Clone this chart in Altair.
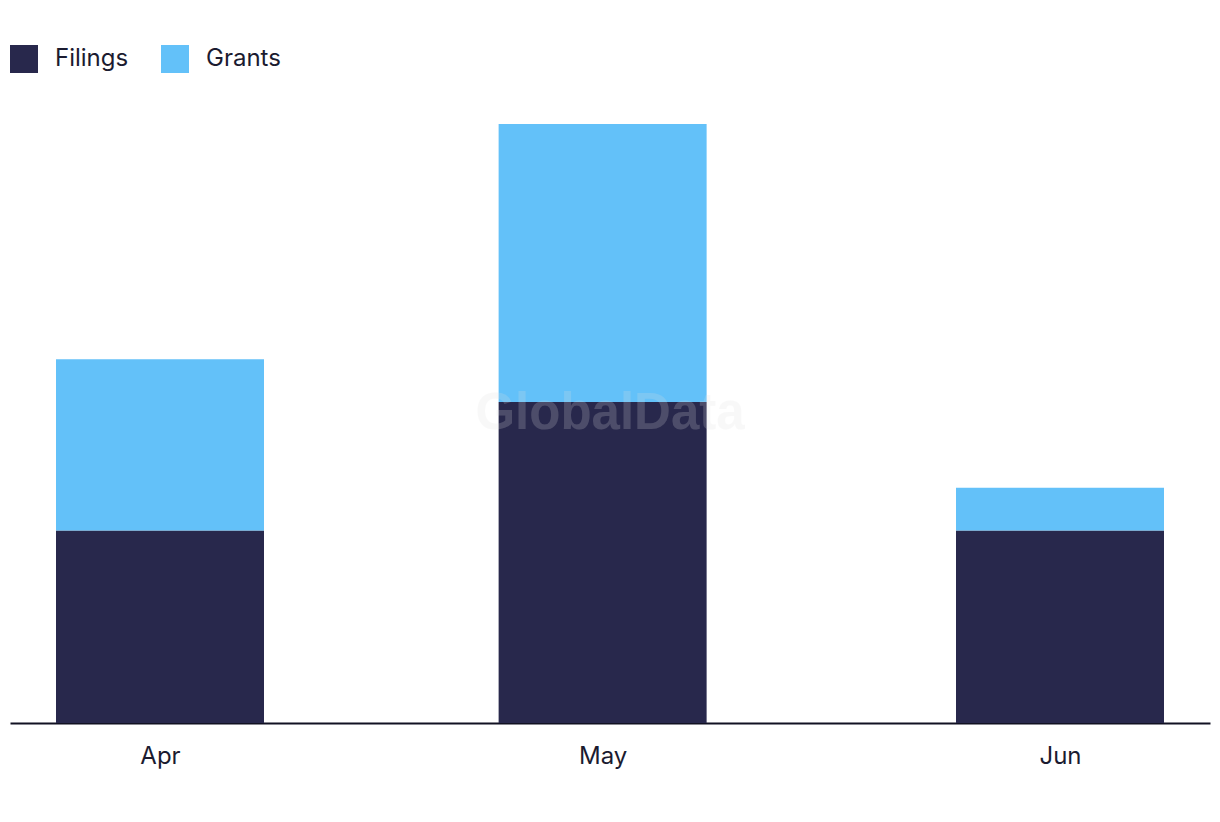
import altair as alt
import pandas as pd

months = ["2023-04-01", "2023-05-01", "2023-06-01"]
filings = [9, 15, 9]
grants = [8, 13, 2]
series = ["Filings", "Grants"]
colors = ["#28284c", "#63c1f9"]

rows = []
for m, f, g in zip(months, filings, grants):
    rows.append({"date": m + "T00:00:00Z", "type": "Filings", "value": f})
    rows.append({"date": m + "T00:00:00Z", "type": "Grants", "value": g})
df = pd.DataFrame(rows)

FONT = "Inter"
TXT = "#1b1b30"


def ms(s):
    return int(pd.Timestamp(s, tz="UTC").value // 1_000_000)


xscale = alt.Scale(
    type="utc",
    nice=False,
    padding=0,
    domain=[ms("2023-03-21T20:00:00"), ms("2023-06-11T04:00:00")],
)

bars = alt.Chart(df).mark_bar(width=208).encode(
    x=alt.X(
        "date:T",
        scale=xscale,
        title=None,
        axis=alt.Axis(
            values=[ms(m) for m in months],
            labelExpr="utcFormat(datum.value, '%b')",
            ticks=False,
            grid=False,
            domainColor="#111122",
            domainWidth=2,
            labelFont=FONT,
            labelFontSize=24,
            labelColor=TXT,
            labelPadding=21,
        ),
    ),
    y=alt.Y(
        "value:Q",
        stack="zero",
        scale=alt.Scale(domain=[0, 28], nice=False),
        axis=None,
    ),
    color=alt.Color(
        "type:N",
        scale=alt.Scale(domain=series, range=colors),
        legend=alt.Legend(
            title=None,
            orient="none",
            legendX=0,
            legendY=-79,
            direction="horizontal",
            symbolType="square",
            symbolSize=784,
            symbolStrokeWidth=0,
            symbolOpacity=1,
            labelFont=FONT,
            labelFontSize=24,
            labelColor=TXT,
            labelOffset=17,
            columnPadding=32,
        ),
    ),
    order=alt.Order("type:N", sort="ascending"),
)

wm = alt.Chart(pd.DataFrame({"t": ["GlobalData"]})).mark_text(
    font="Liberation Sans",
    fontWeight="bold",
    fontSize=51,
    color="#e0e0e0",
    opacity=0.2,
).encode(
    text="t:N",
    x=alt.value(600),
    y=alt.value(290),
)

chart = (
    alt.layer(bars, wm)
    .properties(
        width=1200,
        height=599,
        padding={"left": 2, "top": 116, "right": 2, "bottom": 60},
        autosize=alt.AutoSizeParams(type="none"),
        background="white",
    )
    .configure_view(stroke=None)
)

chart.save("out.html", embed_options={"renderer": "svg", "actions": False})
